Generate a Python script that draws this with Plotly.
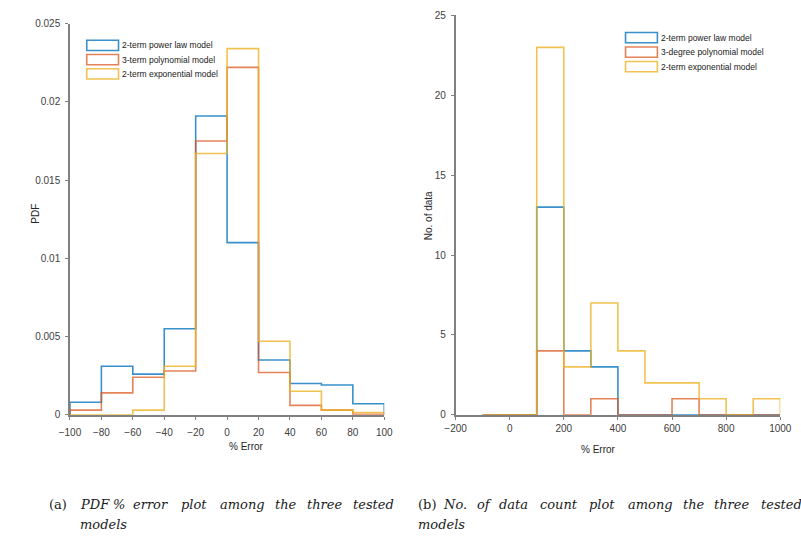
import plotly.graph_objects as go

# ---------------- data ----------------
left_edges = [-100, -80, -60, -40, -20, 0, 20, 40, 60, 80, 100]
pdf_power = [0.0008, 0.0031, 0.0026, 0.0055, 0.0191, 0.0110, 0.0035, 0.0020, 0.0019, 0.0007]
pdf_poly = [0.0003, 0.0014, 0.0024, 0.0028, 0.0175, 0.0222, 0.0027, 0.0006, 0.0003, 0.00003]
pdf_exp = [0.0, 0.0, 0.0003, 0.0031, 0.0167, 0.0234, 0.0047, 0.0015, 0.0003, 0.00015]

right_edges = [-100, 0, 100, 200, 300, 400, 500, 600, 700, 800, 900, 1000]
cnt_power = [0, 0, 13, 4, 3, 0, 0, 0, 0, 0, 0]
cnt_poly = [0, 0, 4, 0, 1, 0, 0, 1, 0, 0, 0]
cnt_exp = [0, 0, 23, 3, 7, 4, 2, 2, 1, 0, 1]

left_names = ["2-term power law model", "3-term polynomial model", "2-term exponential model"]
right_names = ["2-term power law model", "3-degree polynomial model", "2-term exponential model"]

left_yticks = [0, 0.005, 0.01, 0.015, 0.02, 0.025]
left_yticklabels = ["0", "0.005", "0.01", "0.015", "0.02", "0.025"]
left_xticks = [-100, -80, -60, -40, -20, 0, 20, 40, 60, 80, 100]
right_yticks = [0, 5, 10, 15, 20, 25]
right_xticks = [-200, 0, 200, 400, 600, 800, 1000]

caption_a = ["(a)", "PDF", "%", "error", "plot", "among", "the", "three", "tested"]
caption_b = ["(b)", "No.", "of", "data", "count", "plot", "among", "the", "three", "tested"]
caption_end = "models"

colors = ["rgba(0,114,189,0.78)", "rgba(217,83,25,0.72)", "rgba(237,177,32,0.78)"]

W, H = 801, 540


def px(x):
    return x / W


def py(y):
    return 1 - y / H


def stairs(edges, vals):
    xs = [edges[0]] + list(edges)
    ys = [0] + list(vals) + [0]
    return xs, ys


fig = go.Figure()

for vals, name, c in zip([pdf_power, pdf_poly, pdf_exp], left_names, colors):
    xs, ys = stairs(left_edges, vals)
    fig.add_trace(go.Scatter(x=xs, y=ys, mode="lines", line=dict(color=c, width=1.6, shape="hv"),
                             name=name, showlegend=False, xaxis="x", yaxis="y"))

for vals, name, c in zip([cnt_power, cnt_poly, cnt_exp], right_names, colors):
    xs, ys = stairs(right_edges, vals)
    fig.add_trace(go.Scatter(x=xs, y=ys, mode="lines", line=dict(color=c, width=1.6, shape="hv"),
                             name=name, showlegend=False, xaxis="x2", yaxis="y2"))

tickfont = dict(family="Liberation Sans, Arial, sans-serif", size=10, color="#404040")
axcommon = dict(showline=True, linecolor="#808080", linewidth=1.5, ticks="outside", ticklen=3,
                tickcolor="#808080", tickwidth=1, showgrid=False, zeroline=False, tickfont=tickfont)

fig.update_layout(
    width=W, height=H,
    margin=dict(l=0, r=0, t=0, b=0),
    paper_bgcolor="white", plot_bgcolor="white",
    showlegend=False,
    xaxis=dict(domain=[px(60.7), px(384.3)], range=[-100, 100], tickvals=left_xticks, anchor="y",
               ticklabelstandoff=4, **axcommon),
    yaxis=dict(domain=[py(418.3), py(19)], range=[0, 0.025], tickvals=left_yticks,
               ticktext=left_yticklabels, anchor="x", ticklabelstandoff=3, **axcommon),
    xaxis2=dict(domain=[px(457.7), px(792)], range=[-200, 1000], tickvals=right_xticks, anchor="y2",
                ticklabelstandoff=0, **axcommon),
    yaxis2=dict(domain=[py(418.3), py(10.7)], range=[0, 25], tickvals=right_yticks, anchor="x2",
                ticklabelstandoff=3, **axcommon),
)

annots = []
lab = dict(family="Liberation Sans, Arial, sans-serif", size=10, color="#262626")
common = dict(xref="paper", yref="paper", showarrow=False, yanchor="middle")
annots.append(dict(x=px(222), y=py(451), text="% Error", font=lab, **common))
annots.append(dict(x=px(625), y=py(454), text="% Error", font=lab, **common))
annots.append(dict(x=px(18), y=py(213), text="PDF", textangle=-90, font=lab, **common))
annots.append(dict(x=px(430), y=py(215), text="No. of data", textangle=-90, font=lab, **common))

# legends (drawn boxes + text)
shapes = []
legfont = dict(family="Liberation Sans, Arial, sans-serif", size=8.5, color="#202020")
for i, (name, c) in enumerate(zip(left_names, colors)):
    y0 = 36 + i * 14.5
    shapes.append(dict(type="rect", xref="paper", yref="paper", x0=px(78), x1=px(110.7),
                       y0=py(y0), y1=py(y0 + 10.5), line=dict(color=c, width=1.6), fillcolor="rgba(0,0,0,0)"))
    annots.append(dict(x=px(112.5), y=py(y0 + 5.3), text=name, xanchor="left", font=legfont, **common))
for i, (name, c) in enumerate(zip(right_names, colors)):
    y0 = 28 + i * 14.8
    shapes.append(dict(type="rect", xref="paper", yref="paper", x0=px(632.7), x1=px(665.5),
                       y0=py(y0), y1=py(y0 + 10.5), line=dict(color=c, width=1.6), fillcolor="rgba(0,0,0,0)"))
    annots.append(dict(x=px(667.5), y=py(y0 + 5.3), text=name, xanchor="left", font=legfont, **common))

# captions (justified words)
capfont = dict(family="DejaVu Serif, serif", size=13, color="#1a1a1a")
a_pos = [37, 69, 103, 124, 173, 213, 270, 303, 350]
b_pos = [417, 443, 478, 500, 543, 593, 633, 690, 722, 770]
for i, (w, xp) in enumerate(zip(caption_a, a_pos)):
    t = w if i == 0 else "<i>" + w + "</i>"
    annots.append(dict(x=px(xp), y=py(510), xanchor="left", text=t, font=capfont, **common))
for i, (w, xp) in enumerate(zip(caption_b, b_pos)):
    t = w if i == 0 else "<i>" + w + "</i>"
    annots.append(dict(x=px(xp), y=py(510), xanchor="left", text=t, font=capfont, **common))
annots.append(dict(x=px(69), y=py(530), xanchor="left", text="<i>" + caption_end + "</i>", font=capfont, **common))
annots.append(dict(x=px(417), y=py(530), xanchor="left", text="<i>" + caption_end + "</i>", font=capfont, **common))

fig.update_layout(annotations=annots, shapes=shapes)
fig.write_html("out.html")
